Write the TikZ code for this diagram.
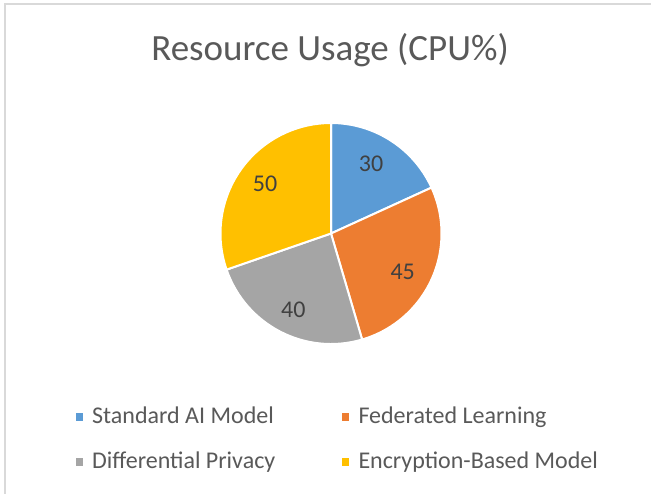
\documentclass[tikz,border=0pt]{standalone}
\usepackage{fontspec}
\setmainfont{Carlito}
\definecolor{cblue}{HTML}{5B9BD5}
\definecolor{corange}{HTML}{ED7D31}
\definecolor{cgray}{HTML}{A5A5A5}
\definecolor{cyellow}{HTML}{FFC000}
\definecolor{ctext}{HTML}{595959}
\definecolor{clabel}{HTML}{404040}
\definecolor{cframe}{HTML}{D9D9D9}
\begin{document}
\begin{tikzpicture}[x=1pt,y=-1pt,
  slice/.style={draw=white,line width=2pt,line join=round},
  legsq/.style={draw=none,minimum size=7.7pt,inner sep=0pt,outer sep=0pt},
  legtxt/.style={text=ctext,font=\fontsize{24}{28}\selectfont,inner sep=0pt,anchor=base west},
  datalbl/.style={text=clabel,font=\fontsize{24}{28}\selectfont,inner sep=0pt},
  titletxt/.style={text=ctext,font=\fontsize{37}{44}\selectfont,inner sep=0pt,anchor=base}]
\useasboundingbox (0,0) rectangle (651,494);
\fill[white] (0,0) rectangle (651,494);
\draw[cframe,line width=2pt] (4.6,494) -- (4.6,4) -- (651,4);
\node[titletxt] (title) at (330,61) {Resource Usage (CPU\%)};
\coordinate (c) at (331,233.5);
\def\R{110.5}
\fill[cblue,slice] (c) -- ++(-90:\R) arc[start angle=-90,end angle=-24.545,radius=\R] -- cycle;
\fill[corange,slice] (c) -- ++(-24.545:\R) arc[start angle=-24.545,end angle=73.636,radius=\R] -- cycle;
\fill[cgray,slice] (c) -- ++(73.636:\R) arc[start angle=73.636,end angle=160.909,radius=\R] -- cycle;
\fill[cyellow,slice] (c) -- ++(160.909:\R) arc[start angle=160.909,end angle=270,radius=\R] -- cycle;
\node[datalbl] (l1) at (371,164) {30};
\node[datalbl] (l2) at (402.7,272.3) {45};
\node[datalbl] (l3) at (293.3,310) {40};
\node[datalbl] (l4) at (265,184) {50};
\node[legsq,fill=cblue] (s1) at (79.5,417) {};
\node[legtxt] (t1) at (92,423.5) {Standard AI Model};
\node[legsq,fill=corange] (s2) at (345.5,417) {};
\node[legtxt] (t2) at (358.3,423.5) {Federated Learning};
\node[legsq,fill=cgray] (s3) at (79.5,461.7) {};
\node[legtxt] (t3) at (92,468.2) {Differential Privacy};
\node[legsq,fill=cyellow] (s4) at (345.5,461.7) {};
\node[legtxt] (t4) at (358.3,468.2) {Encryption-Based Model};
\end{tikzpicture}
\end{document}
